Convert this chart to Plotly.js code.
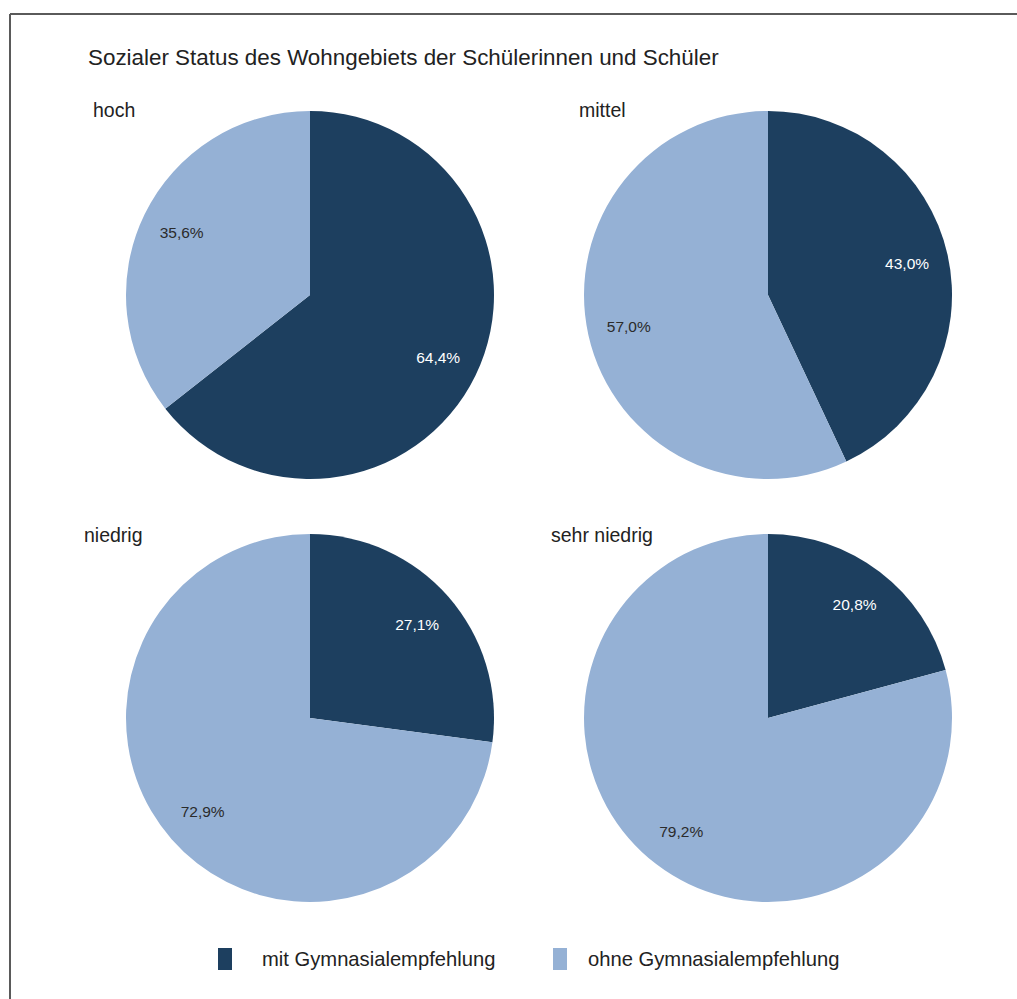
<!DOCTYPE html>
<html>
<head>
<meta charset="utf-8">
<script src="https://cdn.plot.ly/plotly-3.0.1.min.js"></script>
<style>html,body{margin:0;padding:0;background:#fff;}#chart{width:1017px;height:999px;}</style>
</head>
<body>
<div id="chart"></div>
<script>
const chartTitle = "Sozialer Status des Wohngebiets der Schülerinnen und Schüler";
const groups = ["hoch", "mittel", "niedrig", "sehr niedrig"];
const seriesNames = ["mit Gymnasialempfehlung", "ohne Gymnasialempfehlung"];
const mitValues = [64.4, 43.0, 27.1, 20.8];
const ohneValues = [35.6, 57.0, 72.9, 79.2];
const colors = ["#1d3f5f", "#95b1d5"];
const textColors = ["#ffffff", "#2b2b2b"];

const W = 1017, H = 999;
const FONT = "Liberation Sans, Arial, sans-serif";
// pie layout (pixels): centers and radius
const centersX = [310, 768, 310, 768];
const centersY = [295, 295, 718, 718];
const R = 184;
const labelX = [91, 577, 82, 549];
const labelY = [110, 110, 535, 535];

function dom(i) {
  return {
    x: [(centersX[i] - R) / W, (centersX[i] + R) / W],
    y: [1 - (centersY[i] + R) / H, 1 - (centersY[i] - R) / H]
  };
}

const traces = [];
groups.forEach((g, i) => {
  // filled slices
  traces.push({
    type: "pie", name: g, labels: seriesNames,
    values: [mitValues[i], ohneValues[i]],
    sort: false, direction: "clockwise", rotation: 0,
    marker: {colors: colors, line: {width: 0}},
    textposition: "none", showlegend: false, hoverinfo: "label+value",
    domain: dom(i)
  });
  // percentage labels (transparent ring places the text toward the rim)
  traces.push({
    type: "pie", name: g + " Text", labels: seriesNames,
    values: [mitValues[i], ohneValues[i]],
    sort: false, direction: "clockwise", rotation: 0, hole: 0.55,
    marker: {colors: ["rgba(0,0,0,0)", "rgba(0,0,0,0)"], line: {width: 0}},
    textposition: "inside", insidetextorientation: "horizontal",
    texttemplate: "%{value:.1f}%",
    insidetextfont: {family: FONT, size: 15.5, color: textColors},
    showlegend: false, hoverinfo: "skip",
    domain: dom(i)
  });
});

const annotations = groups.map((g, i) => ({
  text: g, xref: "paper", yref: "paper",
  x: labelX[i] / W, y: 1 - labelY[i] / H,
  xanchor: "left", yanchor: "middle", showarrow: false,
  font: {family: FONT, size: 19.5, color: "#222"}
}));

const legendSquareX = [218, 553];
const legendTextX = [260, 586];
const legendY = 959;
const shapes = [
  {type: "line", xref: "paper", yref: "paper", x0: 10 / W, x1: 1.01, y0: 1 - 14 / H, y1: 1 - 14 / H, line: {color: "#5a5a5a", width: 2}},
  {type: "line", xref: "paper", yref: "paper", x0: 10 / W, x1: 10 / W, y0: -0.01, y1: 1 - 14 / H, line: {color: "#5a5a5a", width: 2}}
];
seriesNames.forEach((s, i) => {
  shapes.push({type: "rect", xref: "paper", yref: "paper",
    x0: legendSquareX[i] / W, x1: (legendSquareX[i] + 14) / W,
    y0: 1 - (legendY + 11) / H, y1: 1 - (legendY - 11) / H,
    fillcolor: colors[i], line: {width: 0}});
  annotations.push({text: s, xref: "paper", yref: "paper",
    x: legendTextX[i] / W, y: 1 - legendY / H, xanchor: "left", yanchor: "middle",
    showarrow: false, font: {family: FONT, size: 20.2, color: "#222"}});
});

const layout = {
  width: W, height: H,
  margin: {l: 0, r: 0, t: 0, b: 0},
  paper_bgcolor: "#ffffff",
  separators: ",.",
  title: {
    text: chartTitle, xref: "paper", yref: "paper",
    x: 88 / W, y: 1 - 57 / H, xanchor: "left", yanchor: "middle",
    font: {family: FONT, size: 22.4, color: "#222"}
  },
  showlegend: false,
  annotations: annotations,
  shapes: shapes
};

Plotly.newPlot("chart", traces, layout, {displayModeBar: false, staticPlot: true});
</script>
</body>
</html>
